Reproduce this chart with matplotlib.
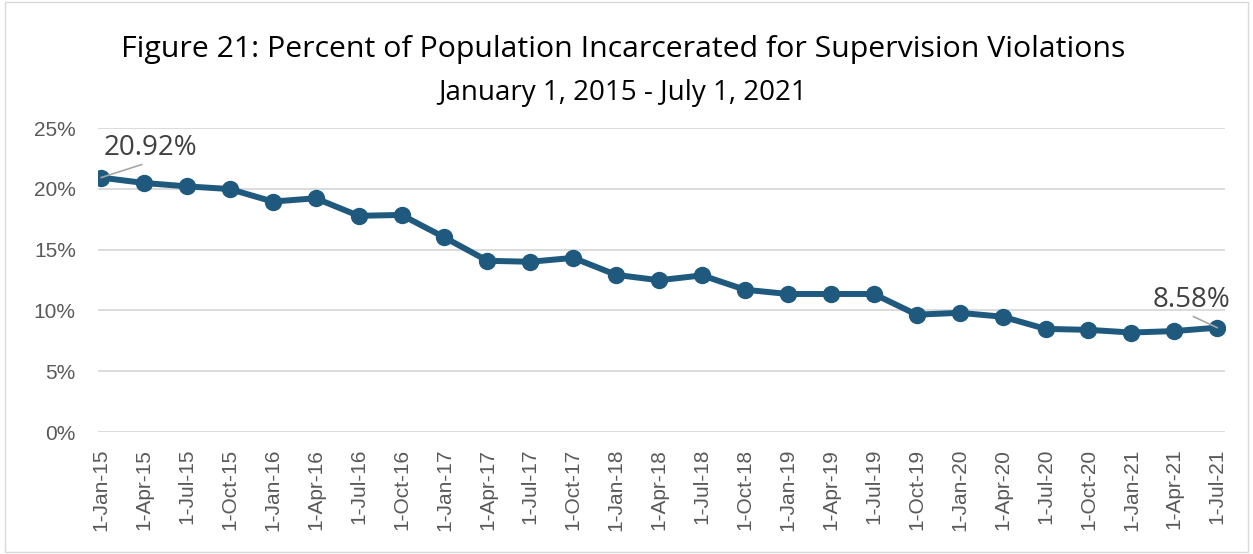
import matplotlib.pyplot as plt
from matplotlib.patches import Rectangle

dates = ['1-Jan-15', '1-Apr-15', '1-Jul-15', '1-Oct-15', '1-Jan-16', '1-Apr-16',
         '1-Jul-16', '1-Oct-16', '1-Jan-17', '1-Apr-17', '1-Jul-17', '1-Oct-17',
         '1-Jan-18', '1-Apr-18', '1-Jul-18', '1-Oct-18', '1-Jan-19', '1-Apr-19',
         '1-Jul-19', '1-Oct-19', '1-Jan-20', '1-Apr-20', '1-Jul-20', '1-Oct-20',
         '1-Jan-21', '1-Apr-21', '1-Jul-21']
pct = [20.92, 20.48, 20.2, 19.98, 18.95, 19.22, 17.78, 17.85, 16.0, 14.08,
       14.0, 14.32, 12.92, 12.48, 12.88, 11.7, 11.35, 11.35, 11.35, 9.65,
       9.8, 9.48, 8.48, 8.4, 8.18, 8.3, 8.58]
yticks = [0, 5, 10, 15, 20, 25]

line_color = '#1F5A7E'

fig = plt.figure(figsize=(12.53, 5.54), dpi=100)
ax = fig.add_axes([98 / 1253, 1 - 432 / 554, (1225 - 98) / 1253, (432 - 128) / 554])

x = list(range(len(dates)))
ax.plot(x, pct, color=line_color, lw=4.3, marker='o', markersize=11.5,
        solid_joinstyle='round', zorder=3)

ax.set_ylim(0, 25)
ax.set_xlim(-0.07, len(dates) - 1 + 0.18)
ax.set_yticks(yticks)
ax.set_yticklabels([f'{v}%' for v in yticks], fontsize=15, color='#595959',
                   family='Liberation Sans')
ax.set_xticks(x)
ax.set_xticklabels(dates, rotation=90, fontsize=15, color='#595959',
                   family='Liberation Sans')
ax.tick_params(axis='both', length=0)
ax.tick_params(axis='x', pad=12)
ax.tick_params(axis='y', pad=16)
ax.grid(axis='y', color='#D9D9D9', lw=1.3)
ax.set_axisbelow(True)
for s in ax.spines.values():
    s.set_visible(False)

# data labels with leader lines
ax.annotate(f'{pct[0]:.2f}%', xy=(x[0], pct[0]), xytext=(x[0] + 0.06, 22.8),
            fontsize=20, color='#404040', family='Open Sans',
            arrowprops=dict(arrowstyle='-', color='#A6A6A6', lw=1.2,
                            shrinkA=0, shrinkB=0, relpos=(0.5, 0)))
ax.annotate(f'{pct[-1]:.2f}%', xy=(x[-1], pct[-1]), xytext=(x[-1] + 0.3, 10.3),
            fontsize=20, color='#404040', family='Open Sans', ha='right',
            arrowprops=dict(arrowstyle='-', color='#A6A6A6', lw=1.2,
                            shrinkA=0, shrinkB=0, relpos=(0.45, 0)))

fig.text(0.497, 1 - 50 / 554, 'Figure 21: Percent of Population Incarcerated for Supervision Violations',
         ha='center', va='center', fontsize=21.8, family='Open Sans', color='black')
fig.text(0.497, 1 - 93 / 554, 'January 1, 2015 - July 1, 2021',
         ha='center', va='center', fontsize=20, family='Open Sans', color='black')

fig.add_artist(Rectangle((0.004, 0.004), 0.992, 0.992, transform=fig.transFigure,
                         fill=False, edgecolor='#D9D9D9', lw=1))

fig.savefig('out.png', dpi=100)
